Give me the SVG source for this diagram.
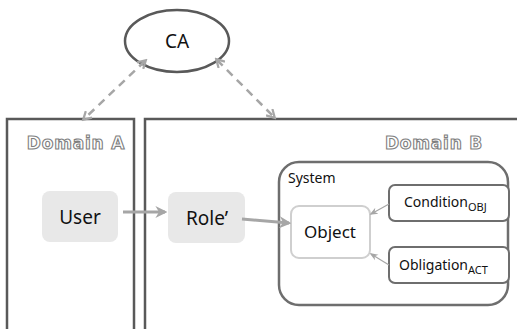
<svg xmlns="http://www.w3.org/2000/svg" width="517" height="329" viewBox="0 0 517 329">
<style>
text{font-family:"Noto Sans","Open Sans","Liberation Sans",sans-serif;fill:#111}
.frame{fill:#fff;stroke:#595959;stroke-width:2.5}
.dom{font-family:"DejaVu Sans","Liberation Sans",sans-serif;font-weight:bold;font-size:17px;letter-spacing:0.8px;fill:#fff;stroke:#7f7f7f;stroke-width:1.1}
.pill{fill:#e8e8e8;stroke:none}
.box{fill:#fff;stroke:#6e6e6e;stroke-width:2}
.solid{fill:none;stroke:#a6a6a6;stroke-width:3}
.thin{fill:none;stroke:#a6a6a6;stroke-width:1.2}
.dash{fill:none;stroke:#a6a6a6;stroke-width:2.5;stroke-dasharray:8 6}
</style>
<defs>
<marker id="ah" viewBox="0 0 10 10" refX="8" refY="5" markerWidth="4" markerHeight="4" orient="auto-start-reverse"><path d="M0,0 L10,5 L0,10 L3,5 Z" fill="#a6a6a6"/></marker>
<marker id="ahs" viewBox="0 0 10 10" refX="8" refY="5" markerWidth="7" markerHeight="7" orient="auto"><path d="M0,1 L10,5 L0,9 L3,5 Z" fill="#a6a6a6"/></marker>
<marker id="ahd" viewBox="0 0 10 10" refX="7" refY="5" markerWidth="4.5" markerHeight="4.5" orient="auto-start-reverse"><path d="M1,1 L8,5 L1,9" fill="none" stroke="#a6a6a6" stroke-width="2"/></marker>
</defs>
<g id="domainA">
<rect class="frame" x="7" y="119" width="127" height="220"/>
<text class="dom" x="76" y="149" text-anchor="middle">Domain A</text>
</g>
<g id="domainB">
<rect class="frame" x="145" y="119" width="380" height="220"/>
<text class="dom" x="434" y="149" text-anchor="middle">Domain B</text>
</g>
<g id="CA">
<ellipse cx="177" cy="41" rx="52" ry="31" fill="#fff" stroke="#595959" stroke-width="2.5"/>
<text x="177" y="48" font-size="19" text-anchor="middle">CA</text>
</g>
<g id="system">
<rect x="279" y="162" width="229" height="143" rx="20" fill="#fff" stroke="#6e6e6e" stroke-width="2.5"/>
<text x="288" y="183" font-size="14">System</text>
</g>
<g id="user">
<rect class="pill" x="42" y="191" width="76" height="51" rx="8"/>
<text x="80" y="224" font-size="19" text-anchor="middle">User</text>
</g>
<g id="role">
<rect class="pill" x="168" y="192" width="77" height="51" rx="8"/>
<text x="207" y="225" font-size="19" text-anchor="middle">Role’</text>
</g>
<g id="object">
<rect x="291" y="206" width="79" height="52" rx="8" fill="#fff" stroke="#cfcfcf" stroke-width="2"/>
<text x="330" y="238" font-size="17" text-anchor="middle">Object</text>
</g>
<g id="condition">
<rect class="box" x="389" y="185" width="120" height="36" rx="6"/>
<text x="404" y="207" font-size="14">Condition<tspan font-size="11" dy="4">OBJ</tspan></text>
</g>
<g id="obligation">
<rect class="box" x="389" y="247" width="120" height="36" rx="6"/>
<text x="399" y="270" font-size="14">Obligation<tspan font-size="11" dy="4">ACT</tspan></text>
</g>
<g id="connectors">
<line class="dash" x1="145" y1="61" x2="84" y2="119" marker-start="url(#ahd)" marker-end="url(#ahd)"/>
<line class="dash" x1="217" y1="60" x2="274" y2="117" marker-start="url(#ahd)" marker-end="url(#ahd)"/>
<line class="solid" x1="123" y1="212" x2="165" y2="212" marker-end="url(#ah)"/>
<line class="solid" x1="242" y1="219" x2="289" y2="223" marker-end="url(#ah)"/>
<line class="thin" x1="389" y1="204" x2="371" y2="214" marker-end="url(#ahs)"/>
<line class="thin" x1="389" y1="265" x2="371" y2="254" marker-end="url(#ahs)"/>
</g>
</svg>
